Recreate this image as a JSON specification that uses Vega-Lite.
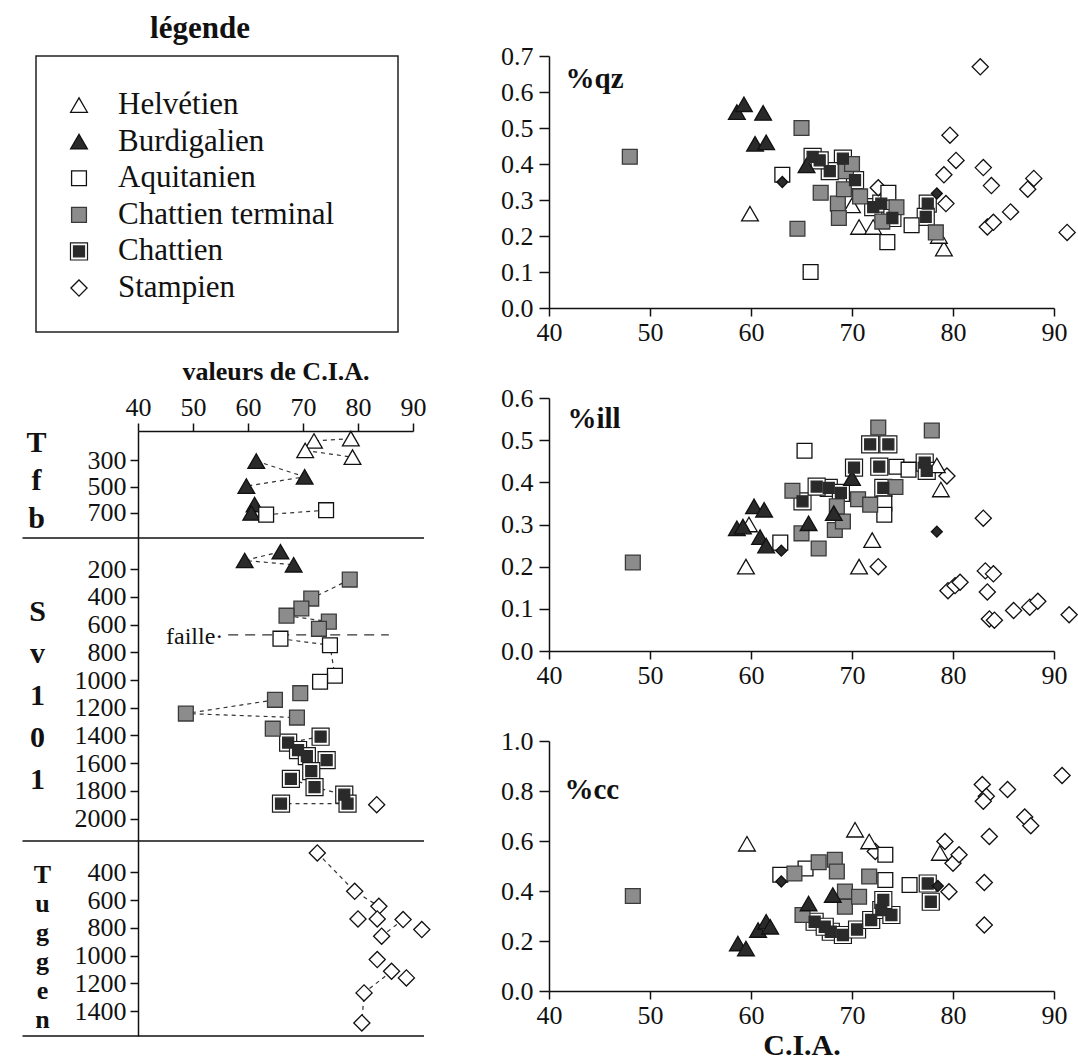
{
"$schema": "https://vega.github.io/schema/vega-lite/v6.json",
"background": "white",
"padding": {"left": 21, "top": 7, "right": 5, "bottom": 2},
"config": {
  "font": "Liberation Serif",
  "view": {"stroke": null},
  "axis": {"labelFont": "Liberation Serif", "labelFontSize": 26, "labelColor": "#111", "domainColor": "#111", "tickColor": "#111", "domainWidth": 1.5, "tickWidth": 1.5, "grid": false, "titleFont": "Liberation Serif", "titleColor": "#111", "labelOverlap": false, "labelFlush": false},
  "title": {"font": "Liberation Serif", "color": "#111"},
  "text": {"font": "Liberation Serif"}
},
"datasets": {
  "leg": [
    {"p": "Helvétien", "o": 1}, {"p": "Burdigalien", "o": 2}, {"p": "Aquitanien", "o": 3},
    {"p": "Chattien terminal", "o": 4}, {"p": "Chattien", "o": 5}, {"p": "Stampien", "o": 6}
  ],
  "tfb": [
    {"p": "Helvétien", "cia": 78.7, "d": 134, "seg": "a"},
    {"p": "Helvétien", "cia": 72.0, "d": 152, "seg": "a"},
    {"p": "Helvétien", "cia": 70.4, "d": 224, "seg": "b"},
    {"p": "Helvétien", "cia": 79.0, "d": 275, "seg": "b"},
    {"p": "Burdigalien", "cia": 61.5, "d": 305, "seg": "c"},
    {"p": "Burdigalien", "cia": 70.3, "d": 425, "seg": "c"},
    {"p": "Burdigalien", "cia": 59.7, "d": 496, "seg": "c"},
    {"p": "Burdigalien", "cia": 61.2, "d": 636, "seg": null},
    {"p": "Burdigalien", "cia": 60.6, "d": 700, "seg": null},
    {"p": "Aquitanien", "cia": 63.3, "d": 713, "seg": "d"},
    {"p": "Aquitanien", "cia": 74.2, "d": 679, "seg": "d"}
  ],
  "sv": [
    {"p": "Burdigalien", "cia": 59.4, "d": 138, "seg": "a"},
    {"p": "Burdigalien", "cia": 65.9, "d": 75, "seg": "a"},
    {"p": "Burdigalien", "cia": 68.3, "d": 169, "seg": "a"},
    {"p": "Chattien terminal", "cia": 78.5, "d": 276, "seg": "b"},
    {"p": "Chattien terminal", "cia": 71.5, "d": 413, "seg": "b"},
    {"p": "Chattien terminal", "cia": 69.7, "d": 484, "seg": null},
    {"p": "Chattien terminal", "cia": 67.0, "d": 536, "seg": "c"},
    {"p": "Chattien terminal", "cia": 74.7, "d": 579, "seg": "c"},
    {"p": "Chattien terminal", "cia": 72.9, "d": 631, "seg": null},
    {"p": "Aquitanien", "cia": 65.9, "d": 702, "seg": "d"},
    {"p": "Aquitanien", "cia": 74.9, "d": 749, "seg": "d"},
    {"p": "Aquitanien", "cia": 75.8, "d": 969, "seg": "d"},
    {"p": "Aquitanien", "cia": 73.1, "d": 1013, "seg": null},
    {"p": "Chattien terminal", "cia": 69.5, "d": 1095, "seg": null},
    {"p": "Chattien terminal", "cia": 64.9, "d": 1143, "seg": "f"},
    {"p": "Chattien terminal", "cia": 48.7, "d": 1242, "seg": "f"},
    {"p": "Chattien terminal", "cia": 68.9, "d": 1271, "seg": "f"},
    {"p": "Chattien terminal", "cia": 64.5, "d": 1351, "seg": null},
    {"p": "Chattien", "cia": 73.2, "d": 1409, "seg": "g"},
    {"p": "Chattien", "cia": 67.3, "d": 1452, "seg": "g"},
    {"p": "Chattien", "cia": 69.1, "d": 1505, "seg": null},
    {"p": "Chattien", "cia": 70.7, "d": 1549, "seg": null},
    {"p": "Chattien", "cia": 74.3, "d": 1578, "seg": null},
    {"p": "Chattien", "cia": 71.5, "d": 1657, "seg": null},
    {"p": "Chattien", "cia": 67.8, "d": 1713, "seg": "h"},
    {"p": "Chattien", "cia": 72.1, "d": 1773, "seg": "h"},
    {"p": "Chattien", "cia": 77.5, "d": 1827, "seg": "h"},
    {"p": "Chattien", "cia": 78.1, "d": 1892, "seg": "i"},
    {"p": "Chattien", "cia": 66.0, "d": 1892, "seg": "i"},
    {"p": "Stampien", "cia": 83.4, "d": 1899, "seg": null}
  ],
  "tug": [
    {"p": "Stampien", "cia": 72.6, "d": 261, "seg": "a"},
    {"p": "Stampien", "cia": 79.4, "d": 537, "seg": "a"},
    {"p": "Stampien", "cia": 83.8, "d": 645, "seg": "a"},
    {"p": "Stampien", "cia": 80.0, "d": 736, "seg": null},
    {"p": "Stampien", "cia": 83.5, "d": 736, "seg": null},
    {"p": "Stampien", "cia": 88.2, "d": 740, "seg": "b"},
    {"p": "Stampien", "cia": 91.6, "d": 812, "seg": null},
    {"p": "Stampien", "cia": 84.3, "d": 860, "seg": "b"},
    {"p": "Stampien", "cia": 83.5, "d": 1028, "seg": null},
    {"p": "Stampien", "cia": 86.1, "d": 1112, "seg": "c"},
    {"p": "Stampien", "cia": 88.8, "d": 1160, "seg": null},
    {"p": "Stampien", "cia": 81.1, "d": 1268, "seg": "c"},
    {"p": "Stampien", "cia": 80.7, "d": 1484, "seg": "c"}
  ],
  "qz": [
    {"p": "Stampien", "cia": 82.7, "v": 0.67}, {"p": "Stampien", "cia": 79.7, "v": 0.48}, {"p": "Stampien", "cia": 80.3, "v": 0.41},
    {"p": "Stampien", "cia": 79.1, "v": 0.37}, {"p": "Stampien", "cia": 79.3, "v": 0.29}, {"p": "Stampien", "cia": 83.0, "v": 0.39},
    {"p": "Stampien", "cia": 83.8, "v": 0.34}, {"p": "Stampien", "cia": 83.4, "v": 0.225}, {"p": "Stampien", "cia": 84.0, "v": 0.238},
    {"p": "Stampien", "cia": 85.7, "v": 0.267}, {"p": "Stampien", "cia": 87.4, "v": 0.33}, {"p": "Stampien", "cia": 88.0, "v": 0.36},
    {"p": "Stampien", "cia": 91.3, "v": 0.21}, {"p": "Stampien", "cia": 72.6, "v": 0.334},
    {"p": "Helvétien", "cia": 59.9, "v": 0.262}, {"p": "Helvétien", "cia": 70.7, "v": 0.225}, {"p": "Helvétien", "cia": 72.1, "v": 0.225},
    {"p": "Helvétien", "cia": 79.1, "v": 0.165}, {"p": "Helvétien", "cia": 78.6, "v": 0.2}, {"p": "Helvétien", "cia": 70.0, "v": 0.285},
    {"p": "Aquitanien", "cia": 63.1, "v": 0.37}, {"p": "Aquitanien", "cia": 65.9, "v": 0.1}, {"p": "Aquitanien", "cia": 73.6, "v": 0.32},
    {"p": "Aquitanien", "cia": 75.9, "v": 0.23}, {"p": "Aquitanien", "cia": 73.5, "v": 0.183},
    {"p": "Chattien terminal", "cia": 48.0, "v": 0.42}, {"p": "Chattien terminal", "cia": 65.0, "v": 0.5}, {"p": "Chattien terminal", "cia": 66.9, "v": 0.32},
    {"p": "Chattien terminal", "cia": 68.6, "v": 0.29}, {"p": "Chattien terminal", "cia": 68.7, "v": 0.25}, {"p": "Chattien terminal", "cia": 64.6, "v": 0.22},
    {"p": "Chattien terminal", "cia": 69.4, "v": 0.38}, {"p": "Chattien terminal", "cia": 70.8, "v": 0.31}, {"p": "Chattien terminal", "cia": 69.2, "v": 0.33},
    {"p": "Chattien terminal", "cia": 74.4, "v": 0.28}, {"p": "Chattien terminal", "cia": 78.3, "v": 0.21}, {"p": "Chattien terminal", "cia": 73.0, "v": 0.24},
    {"p": "Chattien terminal", "cia": 70.0, "v": 0.4},
    {"p": "Burdigalien", "cia": 58.6, "v": 0.544}, {"p": "Burdigalien", "cia": 59.3, "v": 0.566}, {"p": "Burdigalien", "cia": 61.2, "v": 0.542},
    {"p": "Burdigalien", "cia": 60.4, "v": 0.456}, {"p": "Burdigalien", "cia": 61.5, "v": 0.46}, {"p": "Burdigalien", "cia": 65.5, "v": 0.396},
    {"p": "Chattien", "cia": 66.1, "v": 0.42}, {"p": "Chattien", "cia": 69.1, "v": 0.415}, {"p": "Chattien", "cia": 67.8, "v": 0.38},
    {"p": "Chattien", "cia": 70.3, "v": 0.355}, {"p": "Chattien", "cia": 72.1, "v": 0.28}, {"p": "Chattien", "cia": 72.9, "v": 0.29},
    {"p": "Chattien", "cia": 74.0, "v": 0.25}, {"p": "Chattien", "cia": 77.5, "v": 0.29}, {"p": "Chattien", "cia": 77.3, "v": 0.253},
    {"p": "Chattien", "cia": 66.8, "v": 0.41},
    {"p": "indéterminé", "cia": 63.1, "v": 0.35}, {"p": "indéterminé", "cia": 78.4, "v": 0.318}
  ],
  "ill": [
    {"p": "Stampien", "cia": 72.6, "v": 0.2}, {"p": "Stampien", "cia": 79.4, "v": 0.415}, {"p": "Stampien", "cia": 83.0, "v": 0.315},
    {"p": "Stampien", "cia": 83.2, "v": 0.19}, {"p": "Stampien", "cia": 84.0, "v": 0.183}, {"p": "Stampien", "cia": 79.5, "v": 0.143},
    {"p": "Stampien", "cia": 80.2, "v": 0.155}, {"p": "Stampien", "cia": 80.7, "v": 0.163}, {"p": "Stampien", "cia": 83.4, "v": 0.14},
    {"p": "Stampien", "cia": 83.6, "v": 0.076}, {"p": "Stampien", "cia": 84.1, "v": 0.073}, {"p": "Stampien", "cia": 86.0, "v": 0.096},
    {"p": "Stampien", "cia": 87.6, "v": 0.104}, {"p": "Stampien", "cia": 88.4, "v": 0.118}, {"p": "Stampien", "cia": 91.5, "v": 0.086},
    {"p": "Helvétien", "cia": 59.5, "v": 0.2}, {"p": "Helvétien", "cia": 70.7, "v": 0.2}, {"p": "Helvétien", "cia": 72.0, "v": 0.263},
    {"p": "Helvétien", "cia": 78.8, "v": 0.383}, {"p": "Helvétien", "cia": 78.4, "v": 0.44}, {"p": "Helvétien", "cia": 59.8, "v": 0.3},
    {"p": "Aquitanien", "cia": 65.3, "v": 0.475}, {"p": "Aquitanien", "cia": 62.9, "v": 0.257}, {"p": "Aquitanien", "cia": 74.4, "v": 0.437},
    {"p": "Aquitanien", "cia": 75.6, "v": 0.43}, {"p": "Aquitanien", "cia": 73.2, "v": 0.35}, {"p": "Aquitanien", "cia": 73.2, "v": 0.323},
    {"p": "Chattien terminal", "cia": 48.3, "v": 0.21}, {"p": "Chattien terminal", "cia": 72.6, "v": 0.53}, {"p": "Chattien terminal", "cia": 77.9, "v": 0.523},
    {"p": "Chattien terminal", "cia": 64.1, "v": 0.38}, {"p": "Chattien terminal", "cia": 74.3, "v": 0.389}, {"p": "Chattien terminal", "cia": 65.0, "v": 0.279},
    {"p": "Chattien terminal", "cia": 66.7, "v": 0.243}, {"p": "Chattien terminal", "cia": 68.3, "v": 0.287}, {"p": "Chattien terminal", "cia": 69.1, "v": 0.307},
    {"p": "Chattien terminal", "cia": 68.5, "v": 0.343}, {"p": "Chattien terminal", "cia": 70.6, "v": 0.36}, {"p": "Chattien terminal", "cia": 71.8, "v": 0.347},
    {"p": "Burdigalien", "cia": 58.6, "v": 0.291}, {"p": "Burdigalien", "cia": 60.3, "v": 0.343}, {"p": "Burdigalien", "cia": 61.3, "v": 0.335},
    {"p": "Burdigalien", "cia": 60.9, "v": 0.27}, {"p": "Burdigalien", "cia": 61.5, "v": 0.25}, {"p": "Burdigalien", "cia": 65.7, "v": 0.303},
    {"p": "Burdigalien", "cia": 70.0, "v": 0.41}, {"p": "Burdigalien", "cia": 68.2, "v": 0.327}, {"p": "Burdigalien", "cia": 59.2, "v": 0.295},
    {"p": "Chattien", "cia": 71.8, "v": 0.49}, {"p": "Chattien", "cia": 73.6, "v": 0.49}, {"p": "Chattien", "cia": 70.2, "v": 0.435},
    {"p": "Chattien", "cia": 72.7, "v": 0.437}, {"p": "Chattien", "cia": 65.1, "v": 0.355}, {"p": "Chattien", "cia": 67.7, "v": 0.387},
    {"p": "Chattien", "cia": 68.9, "v": 0.375}, {"p": "Chattien", "cia": 73.1, "v": 0.387}, {"p": "Chattien", "cia": 77.2, "v": 0.447},
    {"p": "Chattien", "cia": 77.4, "v": 0.427}, {"p": "Chattien", "cia": 66.5, "v": 0.39},
    {"p": "indéterminé", "cia": 63.0, "v": 0.238}, {"p": "indéterminé", "cia": 78.4, "v": 0.283}
  ],
  "cc": [
    {"p": "Stampien", "cia": 72.3, "v": 0.558}, {"p": "Stampien", "cia": 79.2, "v": 0.598}, {"p": "Stampien", "cia": 80.0, "v": 0.511},
    {"p": "Stampien", "cia": 80.6, "v": 0.545}, {"p": "Stampien", "cia": 79.6, "v": 0.397}, {"p": "Stampien", "cia": 82.9, "v": 0.826},
    {"p": "Stampien", "cia": 83.3, "v": 0.779}, {"p": "Stampien", "cia": 83.0, "v": 0.759}, {"p": "Stampien", "cia": 85.4, "v": 0.806},
    {"p": "Stampien", "cia": 83.6, "v": 0.618}, {"p": "Stampien", "cia": 83.1, "v": 0.434}, {"p": "Stampien", "cia": 83.1, "v": 0.264},
    {"p": "Stampien", "cia": 87.1, "v": 0.696}, {"p": "Stampien", "cia": 87.7, "v": 0.661}, {"p": "Stampien", "cia": 90.8, "v": 0.862},
    {"p": "Helvétien", "cia": 59.6, "v": 0.589}, {"p": "Helvétien", "cia": 70.3, "v": 0.645}, {"p": "Helvétien", "cia": 71.7, "v": 0.598},
    {"p": "Helvétien", "cia": 78.7, "v": 0.552},
    {"p": "Aquitanien", "cia": 62.9, "v": 0.465}, {"p": "Aquitanien", "cia": 65.4, "v": 0.49}, {"p": "Aquitanien", "cia": 73.3, "v": 0.444},
    {"p": "Aquitanien", "cia": 75.7, "v": 0.424}, {"p": "Aquitanien", "cia": 73.3, "v": 0.545},
    {"p": "Chattien terminal", "cia": 48.3, "v": 0.38}, {"p": "Chattien terminal", "cia": 64.3, "v": 0.47}, {"p": "Chattien terminal", "cia": 66.7, "v": 0.515},
    {"p": "Chattien terminal", "cia": 68.3, "v": 0.525}, {"p": "Chattien terminal", "cia": 68.5, "v": 0.478}, {"p": "Chattien terminal", "cia": 69.3, "v": 0.398},
    {"p": "Chattien terminal", "cia": 69.3, "v": 0.337}, {"p": "Chattien terminal", "cia": 70.7, "v": 0.377}, {"p": "Chattien terminal", "cia": 71.7, "v": 0.458},
    {"p": "Chattien terminal", "cia": 65.1, "v": 0.304},
    {"p": "Burdigalien", "cia": 58.7, "v": 0.19}, {"p": "Burdigalien", "cia": 59.5, "v": 0.17}, {"p": "Burdigalien", "cia": 60.7, "v": 0.244},
    {"p": "Burdigalien", "cia": 61.5, "v": 0.277}, {"p": "Burdigalien", "cia": 61.9, "v": 0.257}, {"p": "Burdigalien", "cia": 65.7, "v": 0.35},
    {"p": "Burdigalien", "cia": 68.1, "v": 0.384},
    {"p": "Chattien", "cia": 66.3, "v": 0.277}, {"p": "Chattien", "cia": 67.9, "v": 0.237}, {"p": "Chattien", "cia": 69.1, "v": 0.224},
    {"p": "Chattien", "cia": 70.5, "v": 0.246}, {"p": "Chattien", "cia": 71.9, "v": 0.284}, {"p": "Chattien", "cia": 72.9, "v": 0.324},
    {"p": "Chattien", "cia": 73.9, "v": 0.304}, {"p": "Chattien", "cia": 73.1, "v": 0.364}, {"p": "Chattien", "cia": 77.5, "v": 0.43},
    {"p": "Chattien", "cia": 77.8, "v": 0.357}, {"p": "Chattien", "cia": 67.3, "v": 0.257},
    {"p": "indéterminé", "cia": 63.0, "v": 0.438}, {"p": "indéterminé", "cia": 78.5, "v": 0.42}
  ]
},
"hconcat": [
  {
    "spacing": 25,
    "vconcat": [
      {
        "width": 260, "height": 276,
        "title": {"text": "légende", "fontSize": 31, "fontWeight": "bold", "anchor": "middle", "dx": -68, "offset": 10},
        "data": {"name": "leg"},
        "encoding": {
          "y": {"field": "o", "type": "quantitative", "scale": {"domain": [-0.34, 7.2], "reverse": true, "nice": false, "zero": false}, "axis": null}
        },
        "layer": [
          {"transform": [{"aggregate": [{"op": "min", "field": "o", "as": "o"}]}],
           "mark": {"type": "rect", "fill": null, "stroke": "#222", "strokeWidth": 1.5},
           "encoding": {"x": {"datum": -10.2, "type": "quantitative", "scale": {"domain": [0, 26]}, "axis": null}, "x2": {"datum": 26},
                        "y": {"datum": -0.34, "type": "quantitative"}, "y2": {"datum": 7.2}}},
          {"transform": [{"filter": "datum.p === 'Chattien'"}],
           "mark": {"type": "point", "shape": "square", "filled": true, "fill": "#ffffff", "stroke": "#1a1a1a", "strokeWidth": 1.2, "size": 290, "opacity": 1},
           "encoding": {"x": {"datum": -5.9, "type": "quantitative"}}},
          {"mark": {"type": "point", "filled": true, "opacity": 1, "strokeWidth": 1.3},
           "encoding": {
             "x": {"datum": -5.9, "type": "quantitative"},
             "shape": {"field": "p", "type": "nominal", "legend": null, "scale": {"domain": ["Helvétien","Burdigalien","Aquitanien","Chattien terminal","Chattien","Stampien","indéterminé"], "range": ["triangle-up","triangle-up","square","square","square","diamond","diamond"]}},
             "fill": {"field": "p", "type": "nominal", "legend": null, "scale": {"domain": ["Helvétien","Burdigalien","Aquitanien","Chattien terminal","Chattien","Stampien","indéterminé"], "range": ["#ffffff","#2a2a2a","#ffffff","#8c8c8c","#2a2a2a","#ffffff","#2a2a2a"]}},
             "stroke": {"field": "p", "type": "nominal", "legend": null, "scale": {"domain": ["Helvétien","Burdigalien","Aquitanien","Chattien terminal","Chattien","Stampien","indéterminé"], "range": ["#111111","#111111","#111111","#3a3a3a","#2a2a2a","#111111","#111111"]}},
             "size": {"field": "p", "type": "nominal", "legend": null, "scale": {"type": "ordinal", "domain": ["Helvétien","Burdigalien","Aquitanien","Chattien terminal","Chattien","Stampien","indéterminé"], "range": [280,280,220,220,120,260,120]}}
           }},
          {"mark": {"type": "text", "align": "left", "baseline": "middle", "fontSize": 31, "color": "#111"},
           "encoding": {"x": {"datum": -2.0, "type": "quantitative"}, "text": {"field": "p"}}}
        ]
      },
      {
        "spacing": 0,
        "bounds": "flush",
        "vconcat": [
          {
            "width": 275, "height": 107,
            "data": {"name": "tfb"},
            "encoding": {
              "x": {"field": "cia", "type": "quantitative", "scale": {"domain": [40, 90], "nice": false, "zero": false},
                    "axis": {"orient": "top", "values": [40,50,60,70,80,90], "title": "valeurs de C.I.A.", "titleFontSize": 26, "titleFontWeight": "bold", "titlePadding": 10, "tickSize": 8, "labelPadding": 3}},
              "y": {"field": "d", "type": "quantitative", "scale": {"domain": [76, 891], "reverse": true, "nice": false, "zero": false},
                    "axis": {"values": [300,500,700], "format": "d", "title": ["T","f","b"], "titleAngle": 0, "titleFontSize": 30, "titleFontWeight": "bold", "titleAlign": "center", "titleBaseline": "top", "titleX": -102, "titleY": -4, "titleLineHeight": 38, "tickSize": 8, "labelPadding": 4}}
            },
            "layer": [
              {"transform": [{"filter": "datum.seg != null"}], "mark": {"type": "line", "strokeDash": [4,4], "color": "#333", "strokeWidth": 1.2},
               "encoding": {"detail": {"field": "seg"}, "order": {"field": "d"}}},
              {"transform": [{"filter": "datum.p === 'Chattien'"}],
               "mark": {"type": "point", "shape": "square", "filled": true, "fill": "#ffffff", "stroke": "#1a1a1a", "strokeWidth": 1.2, "size": 290, "opacity": 1}},
              {"mark": {"type": "point", "filled": true, "opacity": 1, "strokeWidth": 1.3},
               "encoding": {
                 "shape": {"field": "p", "type": "nominal", "legend": null, "scale": {"domain": ["Helvétien","Burdigalien","Aquitanien","Chattien terminal","Chattien","Stampien","indéterminé"], "range": ["triangle-up","triangle-up","square","square","square","diamond","diamond"]}},
                 "fill": {"field": "p", "type": "nominal", "legend": null, "scale": {"domain": ["Helvétien","Burdigalien","Aquitanien","Chattien terminal","Chattien","Stampien","indéterminé"], "range": ["#ffffff","#2a2a2a","#ffffff","#8c8c8c","#2a2a2a","#ffffff","#2a2a2a"]}},
                 "stroke": {"field": "p", "type": "nominal", "legend": null, "scale": {"domain": ["Helvétien","Burdigalien","Aquitanien","Chattien terminal","Chattien","Stampien","indéterminé"], "range": ["#111111","#111111","#111111","#3a3a3a","#2a2a2a","#111111","#111111"]}},
                 "size": {"field": "p", "type": "nominal", "legend": null, "scale": {"type": "ordinal", "domain": ["Helvétien","Burdigalien","Aquitanien","Chattien terminal","Chattien","Stampien","indéterminé"], "range": [280,280,220,220,120,260,120]}}
               }},
              {"transform": [{"aggregate": [{"op": "min", "field": "cia", "as": "cia"}, {"op": "min", "field": "d", "as": "d"}]}], "mark": {"type": "rule", "color": "#111", "strokeWidth": 1.5},
               "encoding": {"x": {"datum": 19, "type": "quantitative"}, "x2": {"datum": 92}, "y": {"datum": 891, "type": "quantitative"}}}
            ]
          },
          {
            "width": 275, "height": 303,
            "data": {"name": "sv"},
            "encoding": {
              "x": {"field": "cia", "type": "quantitative", "scale": {"domain": [40, 90], "nice": false, "zero": false}, "axis": null},
              "y": {"field": "d", "type": "quantitative", "scale": {"domain": [-24, 2161], "reverse": true, "nice": false, "zero": false},
                    "axis": {"values": [200,400,600,800,1000,1200,1400,1600,1800,2000], "format": "d", "title": ["S","v","1","0","1"], "titleAngle": 0, "titleFontSize": 30, "titleFontWeight": "bold", "titleAlign": "center", "titleBaseline": "top", "titleX": -101, "titleY": 58, "titleLineHeight": 42, "tickSize": 8, "labelPadding": 4}}
            },
            "layer": [
              {"transform": [{"filter": "datum.seg != null"}], "mark": {"type": "line", "strokeDash": [4,4], "color": "#333", "strokeWidth": 1.2},
               "encoding": {"detail": {"field": "seg"}, "order": {"field": "d"}}},
              {"transform": [{"aggregate": [{"op": "min", "field": "cia", "as": "cia"}, {"op": "min", "field": "d", "as": "d"}]}], "mark": {"type": "rule", "color": "#333", "strokeWidth": 1.3, "strokeDash": [10,7]},
               "encoding": {"x": {"datum": 56.4, "type": "quantitative"}, "x2": {"datum": 85.6}, "y": {"datum": 675, "type": "quantitative"}}},
              {"transform": [{"aggregate": [{"op": "min", "field": "cia", "as": "cia"}, {"op": "min", "field": "d", "as": "d"}]}], "mark": {"type": "text", "align": "left", "baseline": "middle", "fontSize": 24, "color": "#111", "text": "faille·"},
               "encoding": {"x": {"datum": 45.1, "type": "quantitative"}, "y": {"datum": 690, "type": "quantitative"}}},
              {"transform": [{"filter": "datum.p === 'Chattien'"}],
               "mark": {"type": "point", "shape": "square", "filled": true, "fill": "#ffffff", "stroke": "#1a1a1a", "strokeWidth": 1.2, "size": 290, "opacity": 1}},
              {"mark": {"type": "point", "filled": true, "opacity": 1, "strokeWidth": 1.3},
               "encoding": {
                 "shape": {"field": "p", "type": "nominal", "legend": null, "scale": {"domain": ["Helvétien","Burdigalien","Aquitanien","Chattien terminal","Chattien","Stampien","indéterminé"], "range": ["triangle-up","triangle-up","square","square","square","diamond","diamond"]}},
                 "fill": {"field": "p", "type": "nominal", "legend": null, "scale": {"domain": ["Helvétien","Burdigalien","Aquitanien","Chattien terminal","Chattien","Stampien","indéterminé"], "range": ["#ffffff","#2a2a2a","#ffffff","#8c8c8c","#2a2a2a","#ffffff","#2a2a2a"]}},
                 "stroke": {"field": "p", "type": "nominal", "legend": null, "scale": {"domain": ["Helvétien","Burdigalien","Aquitanien","Chattien terminal","Chattien","Stampien","indéterminé"], "range": ["#111111","#111111","#111111","#3a3a3a","#2a2a2a","#111111","#111111"]}},
                 "size": {"field": "p", "type": "nominal", "legend": null, "scale": {"type": "ordinal", "domain": ["Helvétien","Burdigalien","Aquitanien","Chattien terminal","Chattien","Stampien","indéterminé"], "range": [280,280,220,220,120,260,120]}}
               }},
              {"transform": [{"aggregate": [{"op": "min", "field": "cia", "as": "cia"}, {"op": "min", "field": "d", "as": "d"}]}], "mark": {"type": "rule", "color": "#111", "strokeWidth": 1.5},
               "encoding": {"x": {"datum": 19, "type": "quantitative"}, "x2": {"datum": 92}, "y": {"datum": 2161, "type": "quantitative"}}}
            ]
          },
          {
            "width": 275, "height": 195,
            "data": {"name": "tug"},
            "encoding": {
              "x": {"field": "cia", "type": "quantitative", "scale": {"domain": [40, 90], "nice": false, "zero": false}, "axis": null},
              "y": {"field": "d", "type": "quantitative", "scale": {"domain": [175, 1578], "reverse": true, "nice": false, "zero": false},
                    "axis": {"values": [400,600,800,1000,1200,1400], "format": "d", "title": ["T","u","g","g","e","n"], "titleAngle": 0, "titleFontSize": 26, "titleFontWeight": "bold", "titleAlign": "center", "titleBaseline": "top", "titleX": -96, "titleY": 20, "titleLineHeight": 29, "tickSize": 8, "labelPadding": 4}}
            },
            "layer": [
              {"transform": [{"filter": "datum.seg != null"}], "mark": {"type": "line", "strokeDash": [4,4], "color": "#333", "strokeWidth": 1.2},
               "encoding": {"detail": {"field": "seg"}, "order": {"field": "d"}}},
              {"mark": {"type": "point", "filled": true, "opacity": 1, "strokeWidth": 1.3},
               "encoding": {
                 "shape": {"field": "p", "type": "nominal", "legend": null, "scale": {"domain": ["Helvétien","Burdigalien","Aquitanien","Chattien terminal","Chattien","Stampien","indéterminé"], "range": ["triangle-up","triangle-up","square","square","square","diamond","diamond"]}},
                 "fill": {"field": "p", "type": "nominal", "legend": null, "scale": {"domain": ["Helvétien","Burdigalien","Aquitanien","Chattien terminal","Chattien","Stampien","indéterminé"], "range": ["#ffffff","#2a2a2a","#ffffff","#8c8c8c","#2a2a2a","#ffffff","#2a2a2a"]}},
                 "stroke": {"field": "p", "type": "nominal", "legend": null, "scale": {"domain": ["Helvétien","Burdigalien","Aquitanien","Chattien terminal","Chattien","Stampien","indéterminé"], "range": ["#111111","#111111","#111111","#3a3a3a","#2a2a2a","#111111","#111111"]}},
                 "size": {"field": "p", "type": "nominal", "legend": null, "scale": {"type": "ordinal", "domain": ["Helvétien","Burdigalien","Aquitanien","Chattien terminal","Chattien","Stampien","indéterminé"], "range": [280,280,220,220,120,260,120]}}
               }},
              {"transform": [{"aggregate": [{"op": "min", "field": "cia", "as": "cia"}, {"op": "min", "field": "d", "as": "d"}]}], "mark": {"type": "rule", "color": "#111", "strokeWidth": 1.5},
               "encoding": {"x": {"datum": 19, "type": "quantitative"}, "x2": {"datum": 92}, "y": {"datum": 1578, "type": "quantitative"}}}
            ]
          }
        ]
      }
    ]
  },
  {
    "spacing": 90,
    "bounds": "flush",
    "vconcat": [
      {
        "width": 505, "height": 252,
        "title": {"text": " ", "fontSize": 24, "offset": 12},
        "data": {"name": "qz"},
        "encoding": {
          "x": {"field": "cia", "type": "quantitative", "scale": {"domain": [40, 90], "nice": false, "zero": false},
                "axis": {"values": [40,50,60,70,80,90], "title": null, "tickSize": 8, "labelPadding": 3}},
          "y": {"field": "v", "type": "quantitative", "scale": {"domain": [0, 0.7], "nice": false},
                "axis": {"values": [0,0.1,0.2,0.3,0.4,0.5,0.6,0.7], "format": ".1f", "title": "%qz", "titleAngle": 0, "titleX": 16, "titleY": 31, "titleAlign": "left", "titleBaseline": "alphabetic", "titleFontSize": 29, "titleFontWeight": "bold", "tickSize": 10, "labelPadding": 6}}
        },
        "layer": [
          {"transform": [{"filter": "datum.p === 'Chattien'"}],
           "mark": {"type": "point", "shape": "square", "filled": true, "fill": "#ffffff", "stroke": "#1a1a1a", "strokeWidth": 1.2, "size": 290, "opacity": 1}},
          {"mark": {"type": "point", "filled": true, "opacity": 1, "strokeWidth": 1.3},
           "encoding": {
             "shape": {"field": "p", "type": "nominal", "legend": null, "scale": {"domain": ["Helvétien","Burdigalien","Aquitanien","Chattien terminal","Chattien","Stampien","indéterminé"], "range": ["triangle-up","triangle-up","square","square","square","diamond","diamond"]}},
             "fill": {"field": "p", "type": "nominal", "legend": null, "scale": {"domain": ["Helvétien","Burdigalien","Aquitanien","Chattien terminal","Chattien","Stampien","indéterminé"], "range": ["#ffffff","#2a2a2a","#ffffff","#8c8c8c","#2a2a2a","#ffffff","#2a2a2a"]}},
             "stroke": {"field": "p", "type": "nominal", "legend": null, "scale": {"domain": ["Helvétien","Burdigalien","Aquitanien","Chattien terminal","Chattien","Stampien","indéterminé"], "range": ["#111111","#111111","#111111","#3a3a3a","#2a2a2a","#111111","#111111"]}},
             "size": {"field": "p", "type": "nominal", "legend": null, "scale": {"type": "ordinal", "domain": ["Helvétien","Burdigalien","Aquitanien","Chattien terminal","Chattien","Stampien","indéterminé"], "range": [280,280,220,220,120,260,120]}}
           }}
        ]
      },
      {
        "width": 505, "height": 253,
        "data": {"name": "ill"},
        "encoding": {
          "x": {"field": "cia", "type": "quantitative", "scale": {"domain": [40, 90], "nice": false, "zero": false},
                "axis": {"values": [40,50,60,70,80,90], "title": null, "tickSize": 8, "labelPadding": 3}},
          "y": {"field": "v", "type": "quantitative", "scale": {"domain": [0, 0.6], "nice": false},
                "axis": {"values": [0,0.1,0.2,0.3,0.4,0.5,0.6], "format": ".1f", "title": "%ill", "titleAngle": 0, "titleX": 18, "titleY": 29, "titleAlign": "left", "titleBaseline": "alphabetic", "titleFontSize": 29, "titleFontWeight": "bold", "tickSize": 10, "labelPadding": 6}}
        },
        "layer": [
          {"transform": [{"filter": "datum.p === 'Chattien'"}],
           "mark": {"type": "point", "shape": "square", "filled": true, "fill": "#ffffff", "stroke": "#1a1a1a", "strokeWidth": 1.2, "size": 290, "opacity": 1}},
          {"mark": {"type": "point", "filled": true, "opacity": 1, "strokeWidth": 1.3},
           "encoding": {
             "shape": {"field": "p", "type": "nominal", "legend": null, "scale": {"domain": ["Helvétien","Burdigalien","Aquitanien","Chattien terminal","Chattien","Stampien","indéterminé"], "range": ["triangle-up","triangle-up","square","square","square","diamond","diamond"]}},
             "fill": {"field": "p", "type": "nominal", "legend": null, "scale": {"domain": ["Helvétien","Burdigalien","Aquitanien","Chattien terminal","Chattien","Stampien","indéterminé"], "range": ["#ffffff","#2a2a2a","#ffffff","#8c8c8c","#2a2a2a","#ffffff","#2a2a2a"]}},
             "stroke": {"field": "p", "type": "nominal", "legend": null, "scale": {"domain": ["Helvétien","Burdigalien","Aquitanien","Chattien terminal","Chattien","Stampien","indéterminé"], "range": ["#111111","#111111","#111111","#3a3a3a","#2a2a2a","#111111","#111111"]}},
             "size": {"field": "p", "type": "nominal", "legend": null, "scale": {"type": "ordinal", "domain": ["Helvétien","Burdigalien","Aquitanien","Chattien terminal","Chattien","Stampien","indéterminé"], "range": [280,280,220,220,120,260,120]}}
           }}
        ]
      },
      {
        "width": 505, "height": 250,
        "data": {"name": "cc"},
        "encoding": {
          "x": {"field": "cia", "type": "quantitative", "scale": {"domain": [40, 90], "nice": false, "zero": false},
                "axis": {"values": [40,50,60,70,80,90], "title": "C.I.A.", "titleFontSize": 30, "titleFontWeight": "bold", "titlePadding": 2, "tickSize": 8, "labelPadding": 3}},
          "y": {"field": "v", "type": "quantitative", "scale": {"domain": [0, 1], "nice": false},
                "axis": {"values": [0,0.2,0.4,0.6,0.8,1.0], "format": ".1f", "title": "%cc", "titleAngle": 0, "titleX": 15, "titleY": 57, "titleAlign": "left", "titleBaseline": "alphabetic", "titleFontSize": 29, "titleFontWeight": "bold", "tickSize": 10, "labelPadding": 6}}
        },
        "layer": [
          {"transform": [{"filter": "datum.p === 'Chattien'"}],
           "mark": {"type": "point", "shape": "square", "filled": true, "fill": "#ffffff", "stroke": "#1a1a1a", "strokeWidth": 1.2, "size": 290, "opacity": 1}},
          {"mark": {"type": "point", "filled": true, "opacity": 1, "strokeWidth": 1.3},
           "encoding": {
             "shape": {"field": "p", "type": "nominal", "legend": null, "scale": {"domain": ["Helvétien","Burdigalien","Aquitanien","Chattien terminal","Chattien","Stampien","indéterminé"], "range": ["triangle-up","triangle-up","square","square","square","diamond","diamond"]}},
             "fill": {"field": "p", "type": "nominal", "legend": null, "scale": {"domain": ["Helvétien","Burdigalien","Aquitanien","Chattien terminal","Chattien","Stampien","indéterminé"], "range": ["#ffffff","#2a2a2a","#ffffff","#8c8c8c","#2a2a2a","#ffffff","#2a2a2a"]}},
             "stroke": {"field": "p", "type": "nominal", "legend": null, "scale": {"domain": ["Helvétien","Burdigalien","Aquitanien","Chattien terminal","Chattien","Stampien","indéterminé"], "range": ["#111111","#111111","#111111","#3a3a3a","#2a2a2a","#111111","#111111"]}},
             "size": {"field": "p", "type": "nominal", "legend": null, "scale": {"type": "ordinal", "domain": ["Helvétien","Burdigalien","Aquitanien","Chattien terminal","Chattien","Stampien","indéterminé"], "range": [280,280,220,220,120,260,120]}}
           }}
        ]
      }
    ]
  }
],
"spacing": 67
}
